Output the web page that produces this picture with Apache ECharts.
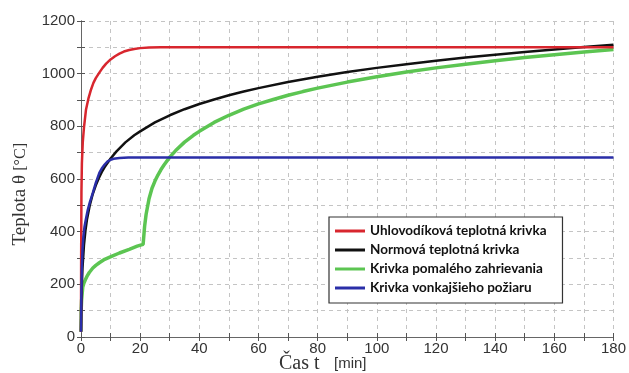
<!DOCTYPE html>
<html>
<head>
<meta charset="utf-8">
<script src="https://cdn.jsdelivr.net/npm/echarts@6/dist/echarts.min.js"></script>
<style>html,body{margin:0;padding:0;background:#fff;}#c{width:629px;height:373px;}</style>
</head>
<body>
<div id="c"></div>
<script>
// ---- data ----
const seriesNames = ['Uhlovodíková teplotná krivka', 'Normová teplotná krivka', 'Krivka pomalého zahrievania', 'Krivka vonkajšieho požiaru'];
const xTicks = [0, 20, 40, 60, 80, 100, 120, 140, 160, 180];
const yTicks = [0, 200, 400, 600, 800, 1000, 1200];

const redT = [0, 0.05, 0.15, 0.3, 0.6, 1, 1.7, 2.5, 3.4, 4.2, 5, 6.2, 7.3, 8.5, 10, 11.5, 13, 14.5, 16.3, 18, 20, 23, 27, 60, 100, 140, 180];
const redV = [20, 300, 550, 660, 740, 795, 864, 905, 940, 965, 983, 1004, 1022, 1038, 1054, 1066, 1076, 1084, 1090, 1094, 1097, 1099, 1100, 1100, 1100, 1100, 1100];

const blackT = [0, 0.25, 0.5, 1, 1.5, 2, 3, 4, 5, 6, 7, 8, 10, 12, 15, 18, 20, 25, 30, 35, 40, 45, 50, 55, 60, 70, 80, 90, 100, 110, 120, 130, 140, 150, 160, 170, 180];
const blackV = [20, 185, 261, 349, 404, 445, 502, 544, 576, 603, 626, 645, 678, 705, 739, 766, 781, 815, 842, 865, 885, 902, 918, 932, 945, 968, 988, 1006, 1022, 1036, 1049, 1061, 1072, 1082, 1092, 1101, 1110];

const greenT = [0, 0.05, 0.2, 0.6, 1, 1.5, 2, 2.8, 4, 5, 6.2, 8, 10.7, 13, 16.3, 19, 21, 21.5, 22, 23, 24, 25, 26, 27, 28, 30, 32, 35, 38, 40, 45, 50, 55, 60, 65, 70, 75, 80, 90, 100, 110, 120, 130, 140, 150, 160, 170, 180];
const greenV = [20, 100, 140, 190, 205, 218, 230, 245, 262, 272, 282, 295, 308, 319, 333, 345, 352, 420, 465, 525, 565, 592, 615, 635, 652, 683, 708, 740, 766, 781, 815, 842, 865, 885, 902, 918, 932, 945, 968, 988, 1006, 1022, 1036, 1049, 1061, 1072, 1082, 1092];

const blueT = [0, 0.1, 0.25, 0.5, 0.8, 1.2, 1.7, 2.3, 3, 4, 5, 6.2, 7, 8, 9, 10, 11, 13, 16, 20, 60, 100, 140, 180];
const blueV = [20, 150, 250, 330, 380, 420, 450, 483, 512, 547, 585, 623, 640, 655, 667, 673, 677, 680, 682, 682, 682, 682, 682, 682];

// ---- chart ----
function pairs(t, v) { return t.map((x, i) => [x, v[i]]); }
const colors = ['#d8262e', '#111111', '#5cc552', '#2a2ea8'];
const widths = [2.5, 2.5, 3.5, 2.5];
const dataSets = [pairs(redT, redV), pairs(blackT, blackV), pairs(greenT, greenV), pairs(blueT, blueV)];

const chart = echarts.init(document.getElementById('c'), null, {renderer: 'canvas'});
const axisLine = {show: true, lineStyle: {color: '#666', width: 1}};
const sans = 'Liberation Sans, Arial, sans-serif';
const serif = 'Liberation Serif, Times New Roman, serif';
const tick = {show: true, inside: true, length: 4, lineStyle: {color: '#555'}};
const split = {show: true, lineStyle: {color: '#c4c4c4', type: [4, 4], width: 1}};

const option = {
  backgroundColor: '#fff',
  animation: false,
  grid: {left: 81, right: 12, top: 21, bottom: 36, containLabel: false},
  xAxis: [{
    type: 'value', min: 0, max: 180, interval: 10,
    axisLine: axisLine, axisTick: tick,
    axisLabel: {color: '#333', fontFamily: sans, fontSize: 15, margin: 4,
      formatter: v => xTicks.indexOf(v) >= 0 ? String(v) : ''},
    splitLine: split
  }, {
    type: 'value', min: 0, max: 180, interval: 10, position: 'top',
    axisLine: axisLine, axisTick: tick,
    axisLabel: {show: false}, splitLine: {show: false}
  }],
  yAxis: [{
    type: 'value', min: 0, max: 1200, interval: 100,
    axisLine: axisLine, axisTick: tick,
    axisLabel: {color: '#333', fontFamily: sans, fontSize: 15, margin: 6,
      formatter: v => yTicks.indexOf(v) >= 0 ? String(v) : ''},
    splitLine: split
  }, {
    type: 'value', min: 0, max: 1200, interval: 100, position: 'right',
    axisLine: axisLine, axisTick: tick,
    axisLabel: {show: false}, splitLine: {show: false}
  }],
  legend: {
    orient: 'vertical', left: 329, top: 217,
    backgroundColor: '#fff',
    borderColor: '#333', borderWidth: 1.2,
    padding: [7, 16, 8, 6],
    itemWidth: 30, itemHeight: 3, itemGap: 5,
    icon: 'rect',
    textStyle: {fontFamily: 'Lato, Liberation Sans, sans-serif', fontWeight: 'bold', fontSize: 13.5, color: '#111'},
    data: seriesNames
  },
  graphic: [{
    type: 'text', left: 11, top: 175, rotation: Math.PI / 2,
    style: {text: 'Teplota θ', font: '19px ' + serif, fill: '#333'}
  }, {
    type: 'text', left: 13, top: 143, rotation: Math.PI / 2,
    style: {text: '[°C]', font: '16px ' + serif, fill: '#333'}
  }, {
    type: 'text', left: 279, top: 354,
    style: {text: 'Čas t', font: '20px ' + serif, fill: '#333'}
  }, {
    type: 'text', left: 334, top: 356,
    style: {text: '[min]', font: '15px ' + sans, fill: '#333'}
  }],
  series: seriesNames.map((n, i) => ({
    name: n, type: 'line', data: dataSets[i], showSymbol: false, symbol: 'none',
    smooth: false,
    lineStyle: {color: colors[i], width: widths[i]},
    itemStyle: {color: colors[i]},
    z: [4, 3, 2, 5][i]
  }))
};
chart.setOption(option);
</script>
</body>
</html>
